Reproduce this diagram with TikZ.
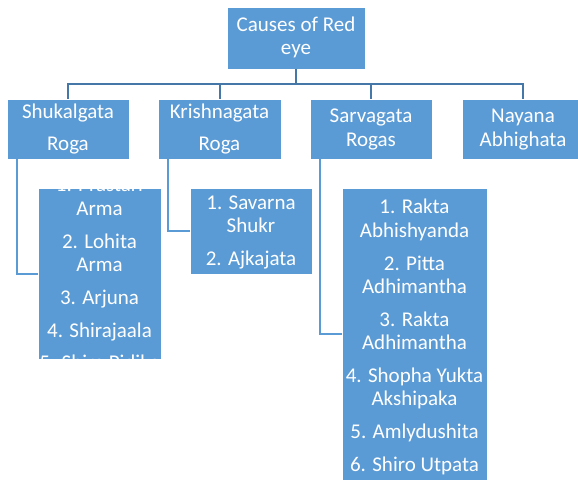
\documentclass[tikz,border=0pt]{standalone}
\usepackage{fontspec}
\setmainfont{Carlito}
\definecolor{boxblue}{HTML}{5B9BD5}
\definecolor{linkdark}{HTML}{4677A9}
\definecolor{linklight}{HTML}{5B9BD5}
\tikzset{
  box/.style={rectangle, fill=boxblue, draw=white, line width=0.6pt, inner sep=0pt},
  txt/.style={anchor=base, text=white, inner sep=0pt, font=\fontsize{21}{24}\selectfont},
  toplink/.style={draw=linkdark, line width=2pt},
  sublink/.style={draw=linklight, line width=2pt},
}
\begin{document}
\begin{tikzpicture}[x=1pt,y=-1pt]
\useasboundingbox (0,0) rectangle (578,481);
\begin{scope}
\clip (0,0) rectangle (578,481);
% boxes
\node[box, minimum width=138pt, minimum height=62pt] (top) at (296,38) {};
\node[box, minimum width=122pt, minimum height=60pt] (b1) at (68,129) {};
\node[box, minimum width=123pt, minimum height=60pt] (b2) at (219.5,129) {};
\node[box, minimum width=122pt, minimum height=60pt] (b3) at (371,129) {};
\node[box, minimum width=122pt, minimum height=60pt] (b4) at (523,129) {};
\node[box, minimum width=123pt, minimum height=171pt] (cA) at (99.5,273.5) {};
\node[box, minimum width=122pt, minimum height=86pt] (cB) at (251,231) {};
\node[box, minimum width=145pt, minimum height=292pt] (cC) at (414.5,334) {};
% connectors
\coordinate (hub) at (296,84);
\draw[toplink] (top.south) -- (hub);
\draw[toplink] (b1.north) -- (b1.north |- hub) -- (b4.north |- hub) -- (b4.north);
\draw[toplink] (b2.north) -- (b2.north |- hub);
\draw[toplink] (b3.north) -- (b3.north |- hub);
\draw[sublink] ([xshift=10pt]b1.south west) |- (cA.west);
\draw[sublink] ([xshift=10.5pt]b2.south west) |- (cB.west);
\draw[sublink] ([xshift=10.5pt]b3.south west) |- (cC.west);
% texts
\node[txt] (t1) at (296,32) {Causes of Red};
\node[txt] (t2) at (296,55) {eye};
\node[txt] (s1) at (68,119) {Shukalgata};
\node[txt] (s2) at (68,151) {Roga};
\node[txt] (k1) at (219.5,119) {Krishnagata};
\node[txt] (k2) at (219.5,151) {Roga};
\node[txt] (v1) at (371,123) {Sarvagata};
\node[txt] (v2) at (371,147) {Rogas};
\node[txt] (n1) at (523,123) {Nayana};
\node[txt] (n2) at (523,147) {Abhighata};
\begin{scope}
\clip (cA.north west) rectangle (cA.south east);
\foreach \t/\yy [count=\i] in {{1. Prastari}/192, {Arma}/215, {2. Lohita}/248, {Arma}/271, {3. Arjuna}/304, {4. Shirajaala}/337, {5. Shira Pidika}/369}
  \node[txt] (a\i) at (99.5,\yy) {\t};
\end{scope}
\foreach \t/\yy [count=\i] in {{1. Savarna}/210, {Shukr}/233, {2. Ajkajata}/265}
  \node[txt] (bb\i) at (251,\yy) {\t};
\foreach \t/\yy [count=\i] in {{1. Rakta}/214, {Abhishyanda}/237, {2. Pitta}/270, {Adhimantha}/293, {3. Rakta}/326, {Adhimantha}/349, {4. Shopha Yukta}/382, {Akshipaka}/405, {5. Amlydushita}/438, {6. Shiro Utpata}/471}
  \node[txt] (cc\i) at (414.5,\yy) {\t};
\end{scope}
\end{tikzpicture}
\end{document}
